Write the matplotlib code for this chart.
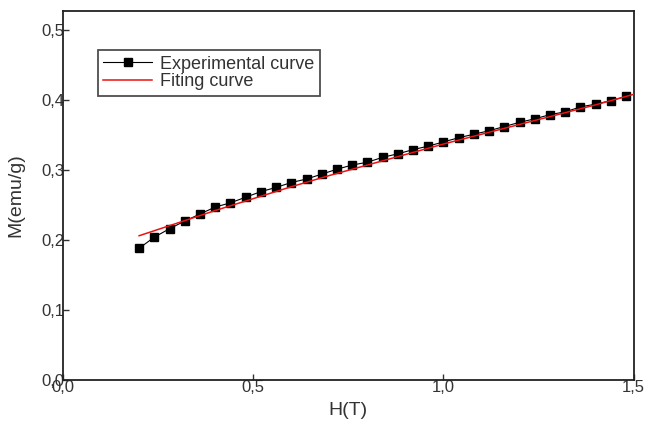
import matplotlib
matplotlib.use("Agg")
import matplotlib.pyplot as plt
import numpy as np
from matplotlib.ticker import FuncFormatter

plt.rcParams["font.family"] = ["Liberation Sans", "DejaVu Sans"]

# measured magnetization vs applied field
field_exp = [0.20, 0.24, 0.28, 0.32, 0.36, 0.40, 0.44, 0.48, 0.52, 0.56, 0.60,
             0.64, 0.68, 0.72, 0.76, 0.80, 0.84, 0.88, 0.92, 0.96, 1.00, 1.04,
             1.08, 1.12, 1.16, 1.20, 1.24, 1.28, 1.32, 1.36, 1.40, 1.44, 1.48]
mag_exp = [0.188, 0.204, 0.216, 0.227, 0.237, 0.247, 0.253, 0.261, 0.269, 0.275, 0.282,
           0.287, 0.294, 0.301, 0.307, 0.311, 0.318, 0.323, 0.329, 0.334, 0.340, 0.346,
           0.351, 0.356, 0.362, 0.368, 0.373, 0.379, 0.383, 0.390, 0.394, 0.399, 0.405]

# fitted curve
field_fit = [0.2, 0.3, 0.4, 0.5, 0.6, 0.7, 0.8, 0.9, 1.0, 1.1, 1.2, 1.3, 1.4, 1.5]
mag_fit = [0.206, 0.224, 0.242, 0.259, 0.276, 0.292, 0.307, 0.322, 0.337, 0.351,
           0.365, 0.379, 0.393, 0.408]

x_ticks = [0.0, 0.5, 1.0, 1.5]
y_ticks = [0.0, 0.1, 0.2, 0.3, 0.4, 0.5]

fig = plt.figure(figsize=(6.46, 4.23), dpi=100)
ax = fig.add_axes([0.0975, 0.1017, 0.8835, 0.8723])

ax.plot(field_exp, mag_exp, color="black", linewidth=0.8, marker="s",
        markersize=5.8, label="Experimental curve", zorder=3)
ax.plot(field_fit, mag_fit, color="#ee1111", linewidth=1.1,
        label="Fiting curve", zorder=4)

ax.set_xlim(0, 1.5)
ax.set_ylim(0, 0.527)
ax.set_xticks(x_ticks)
ax.set_yticks(y_ticks)

comma = FuncFormatter(lambda v, pos: f"{v:.1f}".replace(".", ","))
ax.xaxis.set_major_formatter(comma)
ax.yaxis.set_major_formatter(comma)

ax.tick_params(axis="both", direction="in", length=4, width=1, labelsize=12,
               colors="#333333", pad=0)
ax.tick_params(axis="y", pad=-1)

for side in ax.spines.values():
    side.set_linewidth(1.3)
    side.set_color("#222222")

ax.set_xlabel("H(T)", fontsize=14, color="#333333", labelpad=5)
ax.set_ylabel("M(emu/g)", fontsize=14, color="#333333", labelpad=12)

leg = ax.legend(loc="upper left", bbox_to_anchor=(0.061, 0.894), borderaxespad=0,
                fontsize=13, frameon=True, fancybox=False, handlelength=2.7,
                borderpad=0.3, labelspacing=0.05, handletextpad=0.45)
leg.get_frame().set_edgecolor("#222222")
leg.get_frame().set_linewidth(1.3)
for txt in leg.get_texts():
    txt.set_color("#333333")

fig.savefig("out.png", dpi=100)
